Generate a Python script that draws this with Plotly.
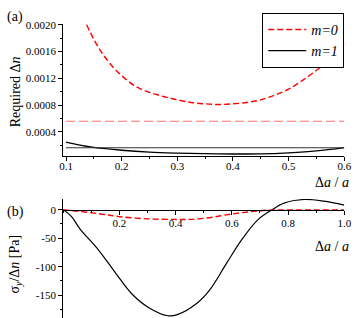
import plotly.graph_objects as go

# ---- panel (a) data ----
a_m0_x = [0.137, 0.15, 0.163, 0.18, 0.2, 0.225, 0.25, 0.275, 0.3, 0.325, 0.35, 0.375, 0.4, 0.425, 0.45, 0.475, 0.5, 0.525, 0.55, 0.575, 0.6]
a_m0_y = [0.00200, 0.00178, 0.00160, 0.00141, 0.00124, 0.00108, 0.00099, 0.00093, 0.00088, 0.00084, 0.00082, 0.00081, 0.00082, 0.00084, 0.00088, 0.00095, 0.00104, 0.00117, 0.00132, 0.00150, 0.00172]
a_m1_x = [0.1, 0.125, 0.15, 0.2, 0.25, 0.3, 0.35, 0.4, 0.45, 0.5, 0.55, 0.6]
a_m1_y = [0.000250, 0.000205, 0.000170, 0.000128, 0.000100, 0.000085, 0.000076, 0.000072, 0.000074, 0.000090, 0.000118, 0.000168]
a_limit_x = [0.1, 0.6]
a_m0_level = 0.00056
a_m1_level = 0.000165

# ---- panel (b) data ----
b_m1_x = [0, 0.03, 0.059, 0.128, 0.188, 0.243, 0.302, 0.372, 0.406, 0.476, 0.521, 0.58, 0.639, 0.694, 0.743, 0.788, 0.858, 0.927, 1.0]
b_m1_y = [0, -12, -33, -72, -112, -147, -171, -186, -184, -164, -141, -95, -50, -17, 0, 12, 18, 15, 8]
b_m0_x = [0, 0.128, 0.198, 0.302, 0.396, 0.45, 0.521, 0.58, 0.639, 0.72, 0.8, 0.9, 1.0]
b_m0_y = [0, -7, -12, -16, -17, -17, -14, -9, -5, -1, -0.5, -0.5, -0.5]

a_yticks = [0.0004, 0.0008, 0.0012, 0.0016, 0.0020]
a_xticks = [0.1, 0.2, 0.3, 0.4, 0.5, 0.6]
b_xticks = [0.2, 0.4, 0.6, 0.8, 1.0]
b_yticks = [-150, -100, -50, 0]
b_ylabels = ["-150", "-100", "-50", "0"]

FONT = "Liberation Serif, serif"
W, H = 360, 318

def py(px):
    return 1 - px / H

fig = go.Figure()
fig.add_trace(go.Scatter(x=a_m0_x, y=a_m0_y, mode="lines", line=dict(color="#ff0000", width=1.4, dash="6px,3px", shape="spline"),
                         name="<i>m=0</i>", xaxis="x", yaxis="y"))
fig.add_trace(go.Scatter(x=a_m1_x, y=a_m1_y, mode="lines", line=dict(color="#000000", width=1.3, shape="spline"),
                         name="<i>m=1</i>", xaxis="x", yaxis="y"))
fig.add_trace(go.Scatter(x=a_limit_x, y=[a_m0_level] * 2, mode="lines", line=dict(color="#ff7070", width=1, dash="9px,4px"),
                         showlegend=False, xaxis="x", yaxis="y"))
fig.add_trace(go.Scatter(x=a_limit_x, y=[a_m1_level] * 2, mode="lines", line=dict(color="#333333", width=1),
                         showlegend=False, xaxis="x", yaxis="y"))
fig.add_trace(go.Scatter(x=b_m1_x, y=b_m1_y, mode="lines", line=dict(color="#000000", width=1.2, shape="spline"),
                         showlegend=False, xaxis="x2", yaxis="y2"))
fig.add_trace(go.Scatter(x=b_m0_x, y=b_m0_y, mode="lines", line=dict(color="#ff0000", width=1.4, dash="6px,3px", shape="spline"),
                         showlegend=False, xaxis="x2", yaxis="y2"))

axcommon = dict(showline=True, linecolor="black", linewidth=1, ticks="outside", ticklen=4, tickcolor="black",
                showgrid=False, zeroline=False, tickfont=dict(family=FONT, size=11, color="black"))

xdom = [61 / W, 351 / W]
fig.update_layout(
    width=W, height=H, margin=dict(l=0, r=0, t=0, b=0),
    paper_bgcolor="white", plot_bgcolor="white",
    font=dict(family=FONT, color="black"),
    xaxis=dict(domain=xdom, range=[0.0948, 0.6], anchor="y", tickvals=a_xticks, ticktext=["%.1f" % v for v in a_xticks],
               ticklabelstandoff=-4,
               minor=dict(ticks="outside", ticklen=2, dtick=0.05, tick0=0.1, tickcolor="black"), **axcommon),
    yaxis=dict(domain=[py(153), py(19)], range=[0.000048, 0.002015], anchor="x", tickvals=a_yticks,
               ticktext=["%.4f" % v for v in a_yticks],
               minor=dict(ticks="outside", ticklen=2, dtick=0.0002, tick0=0, tickcolor="black"), **axcommon),
    xaxis2=dict(domain=xdom, range=[0, 1.0], anchor="free", position=py(208), tickvals=b_xticks,
                ticktext=["%.1f" % v for v in b_xticks], ticklabelstandoff=-1,
                minor=dict(ticks="outside", ticklen=2, dtick=0.1, tick0=0, tickcolor="black"), **axcommon),
    yaxis2=dict(domain=[0, py(197)], range=[-190, 19], anchor="x2", tickvals=b_yticks, ticktext=b_ylabels,
                minor=dict(ticks="outside", ticklen=2, dtick=25, tick0=0, tickcolor="black"), **axcommon),
    legend=dict(x=351 / W, y=py(8), xanchor="right", yanchor="top", bgcolor="white", bordercolor="black", borderwidth=1,
                font=dict(family=FONT, size=14, color="black"), tracegroupgap=0, itemwidth=38),
    showlegend=True,
)

ann = [
    dict(text="(a)", x=1 / W, y=py(12), xanchor="left", yanchor="middle", font=dict(size=14)),
    dict(text="(b)", x=1 / W, y=py(210), xanchor="left", yanchor="middle", font=dict(size=14)),
    dict(text="Required Δ<i>n</i>", x=12 / W, y=py(88), textangle=-90, xanchor="center", yanchor="middle", font=dict(size=14)),
    dict(text="σ<sub><i>y</i></sub>/Δ<i>n</i> [Pa]", x=12 / W, y=py(263), textangle=-90, xanchor="center", yanchor="middle", font=dict(size=14)),
    dict(text="Δ<i>a</i> / <i>a</i>", x=358 / W, y=py(180), xanchor="right", yanchor="middle", font=dict(size=14)),
    dict(text="Δ<i>a</i> / <i>a</i>", x=358 / W, y=py(245), xanchor="right", yanchor="middle", font=dict(size=14)),
]
for a in ann:
    a.update(xref="paper", yref="paper", showarrow=False)
    a["font"].update(family=FONT, color="black")
fig.update_layout(annotations=ann)

fig.write_html("out.html", config={"displayModeBar": False},
               post_script="document.body.style.margin='0';document.body.style.overflow='hidden';")
